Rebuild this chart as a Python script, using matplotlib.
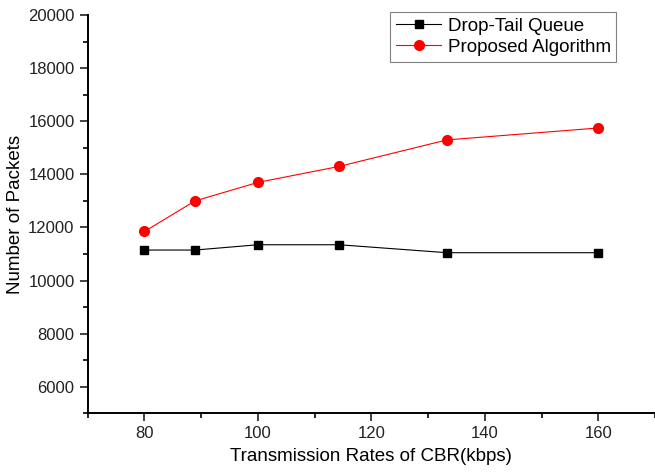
import matplotlib.pyplot as plt
from matplotlib.ticker import MultipleLocator

plt.rcParams["font.family"] = ["Liberation Sans", "DejaVu Sans"]

# transmission rates (kbps)
rates = [80, 88.9, 100, 114.3, 133.3, 160]
drop_tail = [11150, 11150, 11350, 11350, 11050, 11050]
proposed = [11850, 13000, 13700, 14300, 15300, 15750]

fig = plt.figure(figsize=(6.55, 4.75), dpi=100)
ax = fig.add_axes([0.134, 0.13, 0.866, 0.838])

ax.plot(rates, drop_tail, color="black", lw=0.8, marker="s", markersize=6,
        label="Drop-Tail Queue")
ax.plot(rates, proposed, color="red", lw=0.8, marker="o", markersize=7,
        label="Proposed Algorithm")

ax.set_xlim(70, 170)
ax.set_ylim(5000, 20000)
ax.xaxis.set_major_locator(MultipleLocator(20))
ax.xaxis.set_minor_locator(MultipleLocator(10))
ax.yaxis.set_minor_locator(MultipleLocator(1000))
ax.set_yticks(range(6000, 20001, 2000))

ax.spines["top"].set_visible(False)
ax.spines["right"].set_visible(False)
ax.spines["left"].set_linewidth(1.4)
ax.spines["bottom"].set_linewidth(1.4)
ax.tick_params(which="major", direction="out", length=6, width=1.2,
               labelsize=12, colors="#222222")
ax.tick_params(which="minor", direction="out", length=3.5, width=1.2)

ax.set_xlabel("Transmission Rates of CBR(kbps)", fontsize=13.5, labelpad=5)
ax.set_ylabel("Number of Packets", fontsize=13.5, labelpad=3)

leg = ax.legend(loc="upper right", bbox_to_anchor=(0.932, 1.008), fontsize=13.5,
                fancybox=False, edgecolor="gray", framealpha=1,
                handlelength=2.4, handletextpad=0.35, borderpad=0.3,
                labelspacing=0.22, borderaxespad=0)
leg.get_frame().set_linewidth(0.8)

fig.savefig("out.png", dpi=100)
